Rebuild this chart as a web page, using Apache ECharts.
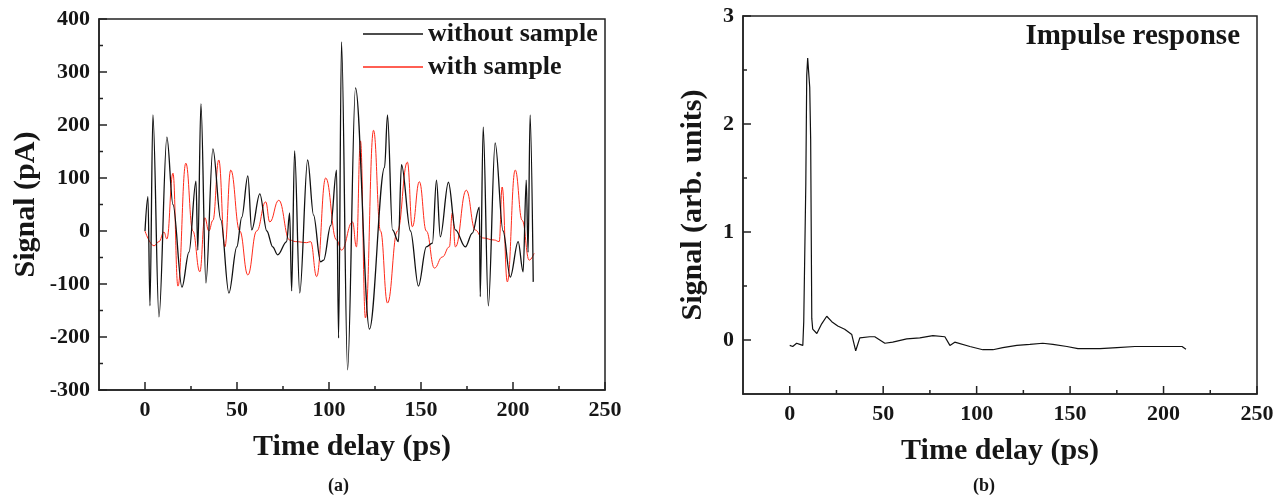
<!DOCTYPE html>
<html>
<head>
<meta charset="utf-8">
<script src="https://cdn.jsdelivr.net/npm/echarts@6/dist/echarts.min.js"></script>
<style>
html,body{margin:0;padding:0;background:#fff;}
#chart{width:1286px;height:500px;}
</style>
</head>
<body>
<div id="chart"></div>
<script>
// ---- data ----
const timeWithout = [0,1.6,2.7,4.3,7.6,11.9,15.2,20.1,23.9,27.7,28.7,30.4,33.1,36.9,41.2,45.6,49.9,52.6,55.9,58.0,62.4,66.2,69.4,72.1,77.0,78.6,79.7,81.3,84.1,88.4,91.6,95.4,97.1,100.9,104.1,105.2,106.8,110.1,114.4,122.0,130.2,131.8,134.5,137.7,139.4,144.3,148.6,152.9,156.2,158.4,160.5,164.9,168.7,174.1,177.9,181.7,182.2,183.8,186.6,190.3,194.6,198.5,202.8,205.5,207.2,208.2,209.3,211.0];
const withoutSample = [0,65,-141,219,-162,177,50,-106,-40,94,-36,240,-98,155,21,-117,-30,26,104,2,70,0,-30,-45,-20,34,-113,151,-117,134,30,-58,-55,10,115,-202,357,-262,270,-185,120,219,2,-20,125,0,-104,-30,-23,96,-11,92,2,-30,-4,45,-124,196,-141,166,0,-87,-20,-77,96,-40,219,-96];

const timeWith = [0,4.9,7.6,10.3,11.9,15.2,17.9,22.2,26.0,29.8,32.5,34.7,36.9,40.1,43.4,46.6,51.5,55.9,60.7,65.6,67.8,72.7,78.6,81.9,87.9,90.0,93.3,98.2,104.1,106.8,112.8,114.9,117.1,119.8,124.2,128.0,131.8,137.2,142.6,145.3,149.1,152.9,157.3,161.6,165.4,167.0,168.7,174.6,179.5,183.3,189.8,192.5,194.1,196.9,201.2,205.0,208.8,211.5];
const withSample = [0,-28,-20,-2,-15,109,-104,128,0,-77,25,0,20,134,-30,115,0,-83,0,55,17,58,-17,-20,-22,-20,-86,100,-17,-36,17,-30,170,-164,190,0,-136,0,130,8,93,0,-70,-49,-30,34,-30,77,2,-13,-17,-20,83,-96,115,20,-55,-42];

const timeImpulse = [0,1.6,3.7,5.4,7.0,7.5,8.6,9.1,9.6,10.7,11.2,11.8,12.3,14.5,15.5,17.1,19.8,22.5,25.7,29.4,33.2,35.3,37.5,42.8,45.5,50.9,55.1,62.6,69.6,76.6,83.0,85.7,88.3,96.4,103.3,108.7,114.0,121.5,128.5,135.4,140.8,148.3,154.2,166.0,175.1,184.7,209.9,212.0];
const impulse = [-0.05,-0.06,-0.03,-0.04,-0.05,0.17,1.44,2.45,2.61,2.34,1.86,0.2,0.1,0.06,0.05,0.15,0.22,0.17,0.13,0.1,0.05,-0.1,0.02,0.03,0.03,-0.03,-0.02,0.01,0.02,0.04,0.03,-0.05,-0.02,-0.06,-0.09,-0.09,-0.07,-0.05,-0.04,-0.03,-0.04,-0.06,-0.08,-0.08,-0.07,-0.06,-0.06,-0.085];

const xMajorTicks = [0,50,100,150,200,250];
const xMinorTicks = [25,75,125,175,225];
const yMajorTicksA = [-300,-200,-100,0,100,200,300,400];
const yMinorTicksA = [-250,-150,-50,50,150,250,350];
const yMajorTicksB = [0,1,2,3];
const yMinorTicksB = [0.5,1.5,2.5];

const seriesNames = ['without sample','with sample'];
const panelLabels = ['(a)','(b)'];
const xTitle = 'Time delay (ps)';
const yTitleA = 'Signal (pA)';
const yTitleB = 'Signal (arb. units)';
const insetTitle = 'Impulse response';

// ---- chart ----
const zip = (t, v) => t.map((x, i) => [x, v[i]]);
const FONT = '"Liberation Serif", "Times New Roman", serif';
const INK = '#161616';
const AXIS_COLOR = '#222';
const axisLineStyle = { color: AXIS_COLOR, width: 1.5 };
const X_MIN = -25, X_MAX = 250;
const Y_RANGE = [[-300, 400], [-0.5, 3]];

function mainX(grid, name) {
  return {
    type: 'value', gridIndex: grid, position: 'bottom', min: X_MIN, max: X_MAX, interval: 25,
    axisLine: { show: true, onZero: false, lineStyle: axisLineStyle },
    axisTick: { show: false },
    axisLabel: { show: true, customValues: xMajorTicks, margin: 9, fontFamily: FONT, fontWeight: 'bold', fontSize: 22, color: INK },
    splitLine: { show: false },
    name: name, nameLocation: 'middle', nameGap: 42,
    nameTextStyle: { fontFamily: FONT, fontWeight: 'bold', fontSize: 30, color: INK }
  };
}
function mainY(grid, ticks, name, gap) {
  return {
    type: 'value', gridIndex: grid, position: 'left', min: Y_RANGE[grid][0], max: Y_RANGE[grid][1],
    axisLine: { show: true, onZero: false, lineStyle: axisLineStyle },
    axisTick: { show: false },
    axisLabel: { show: true, customValues: ticks, margin: 9, fontFamily: FONT, fontWeight: 'bold', fontSize: 22, color: INK },
    splitLine: { show: false },
    name: name, nameLocation: 'middle', nameGap: gap, nameRotate: 90,
    nameTextStyle: { fontFamily: FONT, fontWeight: 'bold', fontSize: 30, color: INK }
  };
}

// inward tick marks placed through the axes' own scales (custom series)
function tickSeries(grid, values, isX, len) {
  const data = values.map(v => isX ? [v, Y_RANGE[grid][0]] : [X_MIN, v]);
  return {
    type: 'custom', xAxisIndex: grid, yAxisIndex: grid, data: data, silent: true, z: 5, clip: false,
    encode: { x: 0, y: 1 },
    renderItem: function (params, api) {
      const p = api.coord([api.value(0), api.value(1)]);
      const shape = isX
        ? { x1: p[0], y1: p[1], x2: p[0], y2: p[1] - len }
        : { x1: p[0], y1: p[1], x2: p[0] + len, y2: p[1] };
      return { type: 'line', shape: shape, style: { stroke: AXIS_COLOR, lineWidth: 1.5 } };
    }
  };
}

const chart = echarts.init(document.getElementById('chart'), null, { renderer: 'canvas' });
chart.setOption({
  animation: false,
  backgroundColor: '#fff',
  grid: [
    { left: 99, top: 19, width: 506, height: 371, show: true, borderColor: AXIS_COLOR, borderWidth: 1.5, backgroundColor: 'transparent' },
    { left: 743, top: 16, width: 514, height: 378, show: true, borderColor: AXIS_COLOR, borderWidth: 1.5, backgroundColor: 'transparent' }
  ],
  xAxis: [ mainX(0, xTitle), mainX(1, xTitle) ],
  yAxis: [ mainY(0, yMajorTicksA, yTitleA, 58), mainY(1, yMajorTicksB, yTitleB, 35) ],
  legend: {
    show: true,
    data: [seriesNames[0], seriesNames[1]], orient: 'vertical', left: 358, top: 16,
    icon: 'rect', itemWidth: 60, itemHeight: 1.5, itemGap: 7,
    textStyle: { fontFamily: FONT, fontWeight: 'bold', fontSize: 26, color: INK }
  },
  graphic: [
    { type: 'text', left: 328, top: 477, style: { text: panelLabels[0], font: 'bold 18px ' + FONT, fill: INK } },
    { type: 'text', left: 973, top: 477, style: { text: panelLabels[1], font: 'bold 18px ' + FONT, fill: INK } },
    { type: 'text', right: 46, top: 22, style: { text: insetTitle, font: 'bold 29px ' + FONT, fill: INK } }
  ],
  series: [
    { name: seriesNames[0], type: 'line', xAxisIndex: 0, yAxisIndex: 0, data: zip(timeWithout, withoutSample),
      symbol: 'none', smooth: 0.35, smoothMonotone: 'x', lineStyle: { color: '#111', width: 1.3 }, itemStyle: { color: '#111' }, z: 3 },
    { name: seriesNames[1], type: 'line', xAxisIndex: 0, yAxisIndex: 0, data: zip(timeWith, withSample),
      symbol: 'none', smooth: 0.45, smoothMonotone: 'x', lineStyle: { color: '#ff2a1a', width: 1 }, itemStyle: { color: '#ff2a1a' }, z: 2 },
    { name: 'impulse', type: 'line', xAxisIndex: 1, yAxisIndex: 1, data: zip(timeImpulse, impulse),
      symbol: 'none', lineStyle: { color: '#111', width: 1.2 }, itemStyle: { color: '#111' } },
    tickSeries(0, xMajorTicks, true, 8), tickSeries(0, xMinorTicks, true, 4),
    tickSeries(0, yMajorTicksA, false, 8), tickSeries(0, yMinorTicksA, false, 4),
    tickSeries(1, xMajorTicks, true, 8), tickSeries(1, xMinorTicks, true, 4),
    tickSeries(1, yMajorTicksB, false, 8), tickSeries(1, yMinorTicksB, false, 4)
  ]
});
</script>
</body>
</html>
